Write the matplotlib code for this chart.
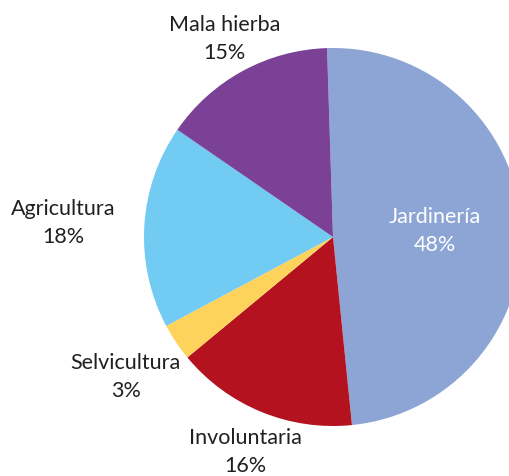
import numpy as np
import matplotlib.pyplot as plt

# slice data (clockwise from top)
categories = ['Jardinería', 'Involuntaria', 'Selvicultura', 'Agricultura', 'Mala hierba']
shares = [48.9, 15.6, 3.2, 17.4, 14.9]
pct_labels = ['48%', '16%', '3%', '18%', '15%']
colors = ['#8CA5D5', '#B3121E', '#FDD35B', '#71CBF2', '#7B4196']
label_dist = [0.54, 1.225, 1.32, 1.43, 1.2]
text_colors = ['white', '#231F20', '#231F20', '#231F20', '#231F20']

plt.rcParams['font.family'] = ['Lato', 'DejaVu Sans']

fig = plt.figure(figsize=(5.1, 4.77), dpi=100)
ax = fig.add_axes([0, 0, 1, 1])

wedges, _ = ax.pie(shares, colors=colors, startangle=91.8, counterclock=False,
                   radius=1, wedgeprops=dict(linewidth=0))

for w, cat, pct, d, tc in zip(wedges, categories, pct_labels, label_dist, text_colors):
    mid = np.deg2rad((w.theta1 + w.theta2) / 2)
    x, y = d * np.cos(mid), d * np.sin(mid)
    ax.text(x, y, cat + '\n' + pct, ha='center', va='center', fontsize=15.5,
            color=tc, linespacing=1.5)

ax.set_xlim(-333 / 189, (510 - 333) / 189)
ax.set_ylim(-239 / 189, 238 / 189)
ax.set_aspect('auto')
ax.axis('off')

plt.savefig('out.png', dpi=100)
